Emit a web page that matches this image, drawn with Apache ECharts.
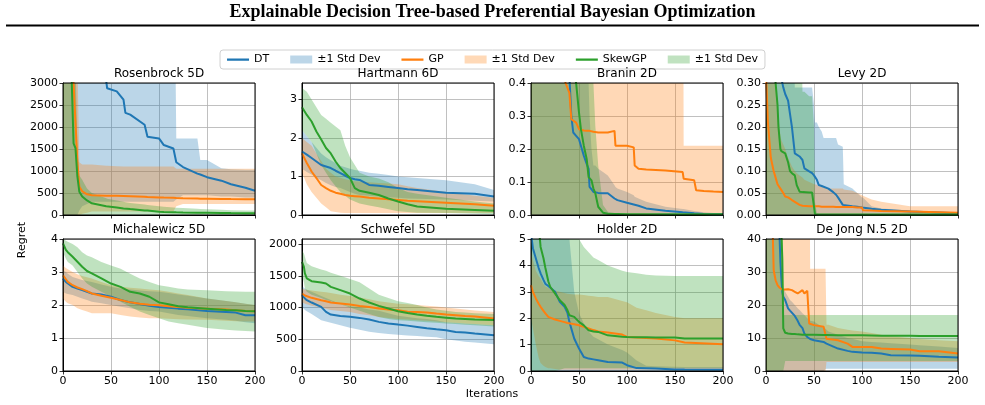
<!DOCTYPE html>
<html>
<head>
<meta charset="utf-8">
<script src="https://cdn.jsdelivr.net/npm/echarts@6/dist/echarts.min.js"></script>
<style>
  html, body { margin: 0; padding: 0; background: #fff; }
  #chart { width: 985px; height: 405px; }
</style>
</head>
<body>
<div id="chart"></div>
<script>
// Rosenbrock 5D
const rosenIters = [0, 9, 11, 13, 15, 17, 20, 25, 30, 45, 46, 56, 63, 65, 70, 85, 88, 100, 105, 115, 118, 125, 140, 143, 150, 165, 175, 190, 200];
const rosenDtMean = [5000, 4800, 4700, 4600, 4500, 4400, 4200, 4000, 3800, 3050, 2880, 2810, 2620, 2320, 2280, 2050, 1780, 1740, 1590, 1510, 1200, 1090, 940, 920, 860, 780, 700, 620, 550];
const rosenDtLo = [0, 0, 0, 0, 0, 100, 200, 250, 300, 300, 300, 300, 300, 300, 300, 300, 300, 300, 300, 300, 350, 450, 450, 450, 450, 420, 420, 400, 400];
const rosenDtHi = [8000, 8000, 8000, 8000, 8000, 8000, 8000, 8000, 8000, 8000, 8000, 8000, 8000, 8000, 8000, 8000, 8000, 8000, 8000, 8000, 1740, 1740, 1740, 1250, 1250, 1060, 1040, 1030, 1030];
const rosenGpMean = [5000, 4000, 3000, 2100, 1200, 640, 540, 470, 450, 440, 440, 435, 430, 430, 425, 415, 410, 400, 395, 390, 385, 380, 375, 372, 370, 365, 362, 360, 360];
const rosenGpLo = [0, 0, 0, 0, 0, 0, 30, 50, 80, 80, 80, 80, 80, 80, 80, 80, 80, 80, 80, 80, 200, 250, 250, 250, 250, 250, 250, 250, 250];
const rosenGpHi = [8000, 7000, 6000, 5000, 3500, 1200, 1150, 1150, 1150, 1120, 1120, 1110, 1100, 1100, 1100, 1100, 1100, 1100, 1100, 1100, 1050, 1050, 1050, 1050, 1050, 1050, 1050, 1050, 1050];
const rosenSkMean = [6000, 3100, 1630, 1520, 870, 530, 420, 330, 265, 200, 195, 170, 150, 145, 135, 105, 100, 75, 70, 62, 60, 57, 52, 51, 50, 46, 44, 42, 40];
const rosenSkLo = [0, 0, 0, 0, 0, 0, 0, 0, 0, 0, 0, 0, 0, 0, 0, 0, 0, 0, 0, 0, 0, 0, 0, 0, 0, 0, 0, 0, 0];
const rosenSkHi = [9000, 7000, 5000, 3500, 1500, 900, 800, 600, 500, 380, 370, 330, 300, 290, 270, 240, 230, 200, 190, 170, 165, 160, 140, 135, 130, 120, 110, 105, 100];

// Hartmann 6D
const hartIters = [0, 5, 10, 15, 20, 25, 30, 35, 40, 45, 50, 55, 60, 70, 80, 90, 100, 110, 120, 150, 180, 200];
const hartDtMean = [1.65, 1.57, 1.48, 1.39, 1.30, 1.26, 1.22, 1.15, 1.09, 1.02, 0.96, 0.93, 0.91, 0.78, 0.76, 0.73, 0.70, 0.67, 0.65, 0.58, 0.55, 0.48];
const hartDtLo = [1.2, 1.12, 1.05, 0.97, 0.9, 0.83, 0.77, 0.73, 0.7, 0.65, 0.6, 0.55, 0.52, 0.5, 0.48, 0.46, 0.45, 0.43, 0.42, 0.4, 0.37, 0.35];
const hartDtHi = [2.2, 2.05, 1.9, 1.75, 1.6, 1.5, 1.42, 1.35, 1.28, 1.24, 1.2, 1.17, 1.15, 1.1, 1.07, 1.04, 1.0, 0.98, 0.96, 0.9, 0.8, 0.65];
const hartGpMean = [1.6, 1.35, 1.13, 0.96, 0.78, 0.7, 0.63, 0.58, 0.55, 0.52, 0.5, 0.49, 0.48, 0.45, 0.43, 0.41, 0.39, 0.37, 0.36, 0.32, 0.28, 0.24];
const hartGpLo = [1.1, 0.8, 0.6, 0.45, 0.3, 0.2, 0.1, 0.08, 0.06, 0.05, 0.05, 0.05, 0.05, 0.05, 0.05, 0.05, 0.05, 0.05, 0.05, 0.05, 0.05, 0.05];
const hartGpHi = [2.0, 1.9, 1.8, 1.6, 1.4, 1.2, 1.1, 1.0, 0.97, 0.93, 0.9, 0.88, 0.87, 0.85, 0.83, 0.82, 0.8, 0.75, 0.7, 0.6, 0.5, 0.45];
const hartSkMean = [2.8, 2.6, 2.43, 2.17, 1.96, 1.74, 1.6, 1.39, 1.22, 1.09, 0.96, 0.7, 0.63, 0.58, 0.52, 0.43, 0.35, 0.28, 0.22, 0.16, 0.13, 0.11];
const hartSkLo = [2.2, 2.05, 1.9, 1.6, 1.3, 1.1, 0.9, 0.75, 0.6, 0.5, 0.4, 0.35, 0.3, 0.25, 0.2, 0.15, 0.1, 0.08, 0.06, 0.05, 0.03, 0.02];
const hartSkHi = [3.3, 3.2, 3.0, 2.8, 2.6, 2.5, 2.4, 2.3, 2.2, 1.8, 1.5, 1.3, 1.1, 1.0, 0.95, 0.85, 0.7, 0.6, 0.55, 0.45, 0.35, 0.3];

// Branin 2D
const branIters = [0, 30, 36, 40, 42, 44, 47, 50, 52, 55, 58, 60, 61, 63, 65, 67, 70, 75, 80, 87, 88, 90, 100, 107, 108, 112, 120, 140, 158, 159, 170, 172, 180, 190, 200];
const branDtMean = [1.0, 0.6, 0.5, 0.42, 0.30, 0.25, 0.24, 0.23, 0.21, 0.18, 0.155, 0.14, 0.085, 0.078, 0.07, 0.068, 0.067, 0.066, 0.066, 0.05, 0.048, 0.045, 0.037, 0.032, 0.031, 0.028, 0.02, 0.013, 0.008, 0.008, 0.005, 0.005, 0.003, 0.002, 0.002];
const branDtLo = [0, 0, 0, 0, 0, 0, 0, 0, 0, 0, 0, 0, 0, 0, 0, 0, 0, 0, 0, 0, 0, 0, 0, 0, 0, 0, 0, 0, 0, 0, 0, 0, 0, 0, 0];
const branDtHi = [2, 1.5, 1.2, 1.0, 0.9, 0.85, 0.8, 0.7, 0.6, 0.5, 0.45, 0.4, 0.3, 0.2, 0.15, 0.15, 0.14, 0.13, 0.12, 0.09, 0.085, 0.08, 0.07, 0.06, 0.055, 0.05, 0.04, 0.025, 0.018, 0.018, 0.012, 0.011, 0.008, 0.006, 0.005];
const branGpMean = [1.2, 0.5, 0.40, 0.37, 0.29, 0.29, 0.28, 0.26, 0.258, 0.256, 0.255, 0.255, 0.255, 0.253, 0.252, 0.251, 0.25, 0.25, 0.25, 0.255, 0.21, 0.21, 0.21, 0.205, 0.15, 0.14, 0.138, 0.135, 0.13, 0.11, 0.105, 0.075, 0.073, 0.071, 0.07];
const branGpLo = [0, 0, 0, 0, 0, 0, 0, 0, 0, 0, 0, 0, 0, 0, 0, 0, 0, 0, 0, 0, 0, 0, 0, 0, 0, 0, 0, 0, 0, 0, 0, 0, 0, 0, 0];
const branGpHi = [1.5, 1.5, 1.5, 1.5, 1.5, 1.5, 1.5, 1.5, 1.5, 1.5, 1.5, 1.5, 1.5, 1.5, 1.5, 1.5, 1.5, 1.5, 1.5, 1.5, 1.5, 1.5, 1.5, 1.5, 1.5, 1.5, 1.5, 1.5, 1.5, 0.21, 0.21, 0.21, 0.21, 0.21, 0.21];
const branSkMean = [1.5, 0.8, 0.6, 0.5, 0.47, 0.44, 0.4, 0.31, 0.26, 0.21, 0.17, 0.115, 0.11, 0.105, 0.08, 0.066, 0.025, 0.007, 0.004, 0.003, 0.003, 0.003, 0.002, 0.002, 0.002, 0.002, 0.002, 0.002, 0.002, 0.002, 0.002, 0.002, 0.002, 0.002, 0.002];
const branSkLo = [0, 0, 0, 0, 0, 0, 0, 0, 0, 0, 0, 0, 0, 0, 0, 0, 0, 0, 0, 0, 0, 0, 0, 0, 0, 0, 0, 0, 0, 0, 0, 0, 0, 0, 0];
const branSkHi = [2, 1.5, 1.2, 1.0, 0.9, 0.85, 0.8, 0.7, 0.65, 0.62, 0.6, 0.6, 0.5, 0.45, 0.4, 0.27, 0.15, 0.03, 0.01, 0.006, 0.005, 0.005, 0.004, 0.004, 0.004, 0.004, 0.003, 0.003, 0.003, 0.003, 0.003, 0.003, 0.003, 0.003, 0.003];

// Levy 2D
const levyIters = [0, 2, 5, 8, 10, 12, 13, 15, 16, 18, 20, 23, 25, 27, 30, 32, 35, 38, 40, 45, 48, 50, 51, 53, 55, 58, 60, 65, 70, 73, 75, 80, 81, 90, 95, 100, 101, 110, 120, 150, 200];
const levyDtMean = [0.6, 0.55, 0.5, 0.45, 0.42, 0.38, 0.36, 0.33, 0.31, 0.29, 0.275, 0.26, 0.23, 0.20, 0.14, 0.137, 0.133, 0.125, 0.106, 0.099, 0.095, 0.09, 0.088, 0.08, 0.068, 0.066, 0.065, 0.06, 0.052, 0.046, 0.04, 0.023, 0.022, 0.02, 0.019, 0.017, 0.017, 0.014, 0.012, 0.008, 0.004];
const levyDtLo = [0, 0, 0, 0, 0, 0, 0, 0, 0, 0, 0, 0, 0, 0, 0, 0, 0, 0, 0, 0, 0, 0, 0, 0, 0, 0, 0, 0, 0, 0, 0, 0, 0, 0, 0, 0, 0, 0, 0, 0, 0];
const levyDtHi = [0.6, 0.6, 0.6, 0.6, 0.6, 0.6, 0.6, 0.6, 0.6, 0.6, 0.6, 0.6, 0.6, 0.6, 0.29, 0.29, 0.29, 0.29, 0.29, 0.29, 0.29, 0.25, 0.21, 0.21, 0.2, 0.19, 0.175, 0.175, 0.175, 0.175, 0.16, 0.155, 0.07, 0.06, 0.05, 0.04, 0.04, 0.02, 0.015, 0.01, 0.005];
const levyGpMean = [0.32, 0.21, 0.13, 0.10, 0.085, 0.07, 0.066, 0.06, 0.056, 0.05, 0.042, 0.04, 0.038, 0.034, 0.03, 0.027, 0.023, 0.021, 0.02, 0.02, 0.02, 0.02, 0.02, 0.02, 0.02, 0.019, 0.019, 0.019, 0.019, 0.018, 0.018, 0.018, 0.018, 0.018, 0.017, 0.017, 0.011, 0.01, 0.009, 0.008, 0.005];
const levyGpLo = [0, 0, 0, 0, 0, 0, 0, 0, 0, 0, 0, 0, 0, 0, 0, 0, 0, 0, 0, 0, 0, 0, 0, 0, 0, 0, 0, 0, 0, 0, 0, 0, 0, 0, 0, 0, 0, 0, 0, 0, 0];
const levyGpHi = [0.6, 0.5, 0.4, 0.33, 0.3, 0.25, 0.22, 0.18, 0.17, 0.16, 0.15, 0.13, 0.12, 0.11, 0.1, 0.095, 0.09, 0.085, 0.08, 0.075, 0.072, 0.07, 0.07, 0.068, 0.066, 0.064, 0.062, 0.06, 0.06, 0.06, 0.06, 0.06, 0.058, 0.055, 0.05, 0.045, 0.044, 0.035, 0.03, 0.02, 0.02];
const levySkMean = [0.8, 0.6, 0.45, 0.35, 0.3, 0.25, 0.2, 0.15, 0.145, 0.142, 0.14, 0.12, 0.10, 0.095, 0.09, 0.068, 0.053, 0.052, 0.052, 0.051, 0.051, 0.019, 0.002, 0.001, 0.001, 0.001, 0.001, 0.001, 0.001, 0.001, 0.001, 0.001, 0.001, 0.001, 0.001, 0.001, 0.001, 0.001, 0.001, 0.001, 0.001];
const levySkLo = [0, 0, 0, 0, 0, 0, 0, 0, 0, 0, 0, 0, 0, 0, 0, 0, 0, 0, 0, 0, 0, 0, 0, 0, 0, 0, 0, 0, 0, 0, 0, 0, 0, 0, 0, 0, 0, 0, 0, 0, 0];
const levySkHi = [0.6, 0.6, 0.6, 0.6, 0.6, 0.6, 0.6, 0.6, 0.6, 0.6, 0.6, 0.6, 0.6, 0.6, 0.6, 0.6, 0.6, 0.28, 0.28, 0.27, 0.27, 0.2, 0.03, 0.004, 0.003, 0.003, 0.003, 0.003, 0.003, 0.003, 0.003, 0.003, 0.003, 0.003, 0.003, 0.003, 0.003, 0.003, 0.003, 0.003, 0.003];

// Michalewicz 5D
const michIters = [0, 3, 5, 10, 15, 20, 25, 30, 40, 50, 60, 70, 80, 90, 100, 110, 120, 130, 150, 170, 180, 190, 200];
const michDtMean = [2.8, 2.7, 2.65, 2.55, 2.5, 2.45, 2.4, 2.35, 2.32, 2.25, 2.15, 2.08, 2.03, 1.98, 1.94, 1.92, 1.89, 1.87, 1.82, 1.79, 1.77, 1.69, 1.69];
const michDtLo = [2.4, 2.35, 2.33, 2.3, 2.25, 2.2, 2.15, 2.1, 2.05, 2.0, 1.95, 1.9, 1.85, 1.82, 1.8, 1.75, 1.7, 1.67, 1.6, 1.55, 1.52, 1.48, 1.45];
const michDtHi = [3.05, 3.0, 2.95, 2.85, 2.8, 2.76, 2.73, 2.7, 2.62, 2.55, 2.5, 2.47, 2.44, 2.42, 2.4, 2.36, 2.32, 2.28, 2.2, 2.12, 2.08, 2.04, 2.0];
const michGpMean = [2.9, 2.78, 2.7, 2.6, 2.53, 2.48, 2.42, 2.35, 2.28, 2.22, 2.15, 2.08, 2.04, 2.01, 1.99, 1.96, 1.94, 1.92, 1.89, 1.86, 1.84, 1.82, 1.81];
const michGpLo = [2.2, 2.1, 2.05, 2.0, 1.9, 1.85, 1.8, 1.75, 1.75, 1.75, 1.7, 1.65, 1.62, 1.6, 1.6, 1.58, 1.57, 1.56, 1.55, 1.52, 1.51, 1.5, 1.5];
const michGpHi = [3.2, 3.12, 3.08, 3.0, 2.93, 2.88, 2.84, 2.8, 2.7, 2.6, 2.55, 2.52, 2.5, 2.47, 2.45, 2.4, 2.35, 2.3, 2.2, 2.12, 2.08, 2.04, 2.0];
const michSkMean = [3.87, 3.67, 3.6, 3.46, 3.31, 3.16, 3.03, 2.96, 2.81, 2.65, 2.55, 2.4, 2.35, 2.25, 2.08, 2.02, 1.96, 1.93, 1.89, 1.85, 1.84, 1.82, 1.81];
const michSkLo = [3.6, 3.4, 3.3, 3.2, 3.0, 2.8, 2.65, 2.55, 2.4, 2.25, 2.1, 1.95, 1.8, 1.7, 1.6, 1.5, 1.45, 1.4, 1.3, 1.25, 1.23, 1.21, 1.2];
const michSkHi = [4.0, 3.95, 3.92, 3.85, 3.75, 3.6, 3.5, 3.45, 3.3, 3.2, 3.1, 2.95, 2.8, 2.7, 2.6, 2.55, 2.5, 2.47, 2.45, 2.42, 2.41, 2.4, 2.4];

// Schwefel 5D
const schwIters = [0, 2, 3, 5, 10, 20, 25, 30, 40, 50, 60, 70, 80, 90, 100, 110, 120, 130, 140, 150, 160, 170, 180, 200];
const schwDtMean = [1195, 1160, 1142, 1116, 1079, 1010, 932, 890, 868, 853, 837, 810, 774, 750, 732, 715, 695, 675, 658, 642, 616, 605, 590, 563];
const schwDtLo = [1000, 980, 960, 940, 900, 800, 780, 760, 720, 680, 650, 620, 600, 585, 570, 560, 550, 540, 530, 500, 480, 460, 450, 420];
const schwDtHi = [1330, 1310, 1300, 1280, 1250, 1180, 1150, 1120, 1050, 1020, 1000, 970, 950, 910, 870, 850, 830, 820, 800, 770, 760, 750, 740, 720];
const schwGpMean = [1221, 1200, 1190, 1184, 1153, 1116, 1100, 1079, 1063, 1047, 1026, 1010, 984, 970, 958, 932, 928, 921, 905, 890, 880, 868, 860, 826];
const schwGpLo = [1080, 1070, 1060, 1050, 1030, 1000, 980, 960, 945, 930, 900, 880, 850, 835, 820, 810, 800, 790, 780, 770, 760, 750, 740, 720];
const schwGpHi = [1300, 1290, 1285, 1280, 1270, 1250, 1240, 1230, 1200, 1180, 1160, 1130, 1100, 1080, 1060, 1050, 1040, 1030, 1015, 1000, 985, 970, 955, 930];
const schwSkMean = [1721, 1642, 1537, 1458, 1416, 1395, 1379, 1326, 1274, 1221, 1142, 1079, 1026, 984, 942, 915, 890, 870, 853, 840, 826, 818, 810, 805];
const schwSkLo = [1500, 1400, 1300, 1250, 1200, 1150, 1120, 1100, 1050, 1000, 950, 900, 850, 820, 800, 790, 780, 770, 760, 750, 740, 730, 720, 700];
const schwSkHi = [1900, 1850, 1800, 1700, 1650, 1600, 1580, 1550, 1500, 1450, 1400, 1300, 1200, 1150, 1100, 1070, 1040, 1000, 970, 950, 930, 920, 910, 900];

// Holder 2D
const holdIters = [0, 2, 5, 8, 10, 13, 15, 18, 20, 25, 30, 35, 38, 40, 45, 50, 55, 60, 65, 70, 80, 95, 100, 110, 120, 130, 150, 160, 200];
const holdDtMean = [5.2, 4.65, 4.27, 3.9, 3.7, 3.45, 3.3, 3.22, 3.19, 3.0, 2.62, 2.43, 2.2, 1.86, 1.23, 0.85, 0.53, 0.47, 0.44, 0.41, 0.34, 0.32, 0.22, 0.11, 0.1, 0.09, 0.06, 0.055, 0.05];
const holdDtLo = [0, 0, 0, 0, 0, 0, 0, 0, 0, 0, 0, 0, 0, 0, 0, 0, 0, 0, 0, 0, 0, 0, 0, 0, 0, 0, 0, 0, 0];
const holdDtHi = [7, 7, 7, 7, 7, 7, 7, 7, 7, 7, 6.5, 6, 5.5, 5, 3.0, 2.2, 1.8, 1.5, 1.3, 1.2, 1.0, 0.8, 0.7, 0.4, 0.2, 0.18, 0.16, 0.15, 0.15];
const holdGpMean = [3.25, 3.0, 2.75, 2.55, 2.43, 2.28, 2.18, 2.05, 1.99, 1.95, 1.9, 1.85, 1.82, 1.8, 1.77, 1.73, 1.67, 1.61, 1.55, 1.5, 1.46, 1.38, 1.29, 1.27, 1.25, 1.23, 1.16, 1.08, 1.01];
const holdGpLo = [2.0, 1.6, 1.0, 0.5, 0.3, 0.2, 0.15, 0.1, 0.1, 0.08, 0.05, 0.05, 0.05, 0.05, 0.05, 0.05, 0.05, 0.05, 0.05, 0.05, 0.05, 0.05, 0.05, 0.05, 0.05, 0.05, 0.05, 0.05, 0.05];
const holdGpHi = [4.5, 4.2, 3.8, 3.6, 3.5, 3.3, 3.2, 3.15, 3.1, 3.05, 3.0, 2.95, 2.93, 2.92, 2.9, 2.9, 2.88, 2.85, 2.83, 2.8, 2.8, 2.65, 2.6, 2.4, 2.3, 2.2, 2.05, 2.0, 2.0];
const holdSkMean = [7, 6.5, 6, 5.5, 4.7, 4.27, 3.9, 3.4, 3.19, 2.94, 2.68, 2.5, 2.3, 2.11, 2.05, 1.86, 1.73, 1.54, 1.5, 1.48, 1.35, 1.3, 1.29, 1.28, 1.28, 1.27, 1.27, 1.23, 1.23];
const holdSkLo = [0, 0, 0, 0, 0, 0, 0, 0, 0, 0, 0.05, 0.1, 0.1, 0.1, 0.1, 0.1, 0.1, 0.1, 0.1, 0.1, 0.1, 0.1, 0.1, 0.1, 0.1, 0.1, 0.1, 0.1, 0.1];
const holdSkHi = [8, 8, 8, 8, 8, 8, 8, 8, 8, 8, 8, 8, 8, 8, 8, 5.0, 4.7, 4.5, 4.3, 4.2, 4.0, 3.8, 3.75, 3.7, 3.65, 3.62, 3.6, 3.6, 3.6];

// De Jong N.5 2D
const dejIters = [0, 7, 8, 10, 12, 14, 15, 16, 17, 18, 20, 21, 23, 25, 27, 30, 33, 35, 38, 40, 43, 45, 46, 50, 60, 62, 63, 65, 75, 85, 90, 100, 110, 120, 130, 150, 160, 180, 200];
const dejDtMean = [60, 55, 52, 48, 45, 42, 33, 28, 24, 22.5, 21.5, 21, 19, 18.3, 17.7, 16.7, 15.2, 14, 13, 11.3, 10.3, 9.8, 9.7, 9.3, 8.8, 8.6, 8.3, 7.8, 6.8, 6.1, 5.8, 5.6, 5.5, 5.3, 4.8, 4.7, 4.6, 4.3, 4.1];
const dejDtLo = [0, 0, 0, 0, 0, 0, 0, 0, 0, 0, 0, 0, 0, 0, 0, 0, 0, 0, 0, 0, 0, 0, 0, 0, 0, 0.5, 0.7, 0.7, 0.7, 0.7, 0.7, 0.7, 0.7, 0.7, 0.7, 0.7, 0.7, 0.7, 0.7];
const dejDtHi = [80, 80, 80, 80, 80, 80, 60, 40, 30, 25, 24, 23.5, 22.5, 21.5, 21, 20, 19, 18.5, 17.5, 17, 16, 15.5, 15.2, 15, 13, 12.8, 12.5, 12, 11, 10, 9.8, 9, 8.8, 8.6, 8.4, 8, 7.8, 7.4, 7];
const dejGpMean = [70, 42, 30.6, 27.5, 26, 25.3, 25, 24.8, 24.6, 24.5, 24.7, 24.7, 24.8, 25, 24.5, 24, 23.5, 23, 24.5, 23.5, 24.3, 14.4, 14.2, 13.9, 13.4, 13, 9.8, 9.6, 9.3, 8.3, 7.3, 7.3, 7.3, 6.8, 6.7, 6.5, 6.0, 6.0, 5.3];
const dejGpLo = [0, 0, 0, 0, 0, 0, 0, 0, 0, 0, 0, 0, 0, 0, 0, 0, 0, 0, 0, 0, 0, 0, 0, 0, 0, 0, 2.7, 2.7, 2.7, 2.7, 2.7, 2.7, 2.7, 2.7, 2.7, 2.7, 2.7, 2.7, 2.7];
const dejGpHi = [80, 80, 80, 80, 80, 80, 80, 80, 80, 80, 80, 80, 80, 80, 80, 80, 80, 80, 80, 80, 80, 80, 31, 31, 31, 31, 14, 14, 13, 12.5, 12.3, 12, 11.5, 11, 10.5, 10, 9.7, 9.3, 9];
const dejSkMean = [80, 70, 68, 66, 64, 60, 50, 42, 34, 12.9, 11.6, 11.4, 11.35, 11.3, 11.2, 11.2, 11.1, 11.1, 11.0, 11.0, 11.0, 11.0, 11.0, 11.0, 10.9, 10.9, 10.9, 10.9, 10.85, 10.8, 10.8, 10.8, 10.75, 10.7, 10.7, 10.65, 10.6, 10.6, 10.6];
const dejSkLo = [0, 0, 0, 0, 0, 0, 0, 0, 0, 0, 3, 3, 3, 3, 3, 3, 3, 3, 3, 3, 3, 3, 3, 3, 3, 3, 3, 3, 3, 3, 3, 3, 3, 3, 3, 3, 3, 3, 3];
const dejSkHi = [80, 80, 80, 80, 80, 80, 80, 80, 80, 17, 17, 17, 17, 17, 17, 17, 17, 17, 17, 17, 17, 17, 17, 17, 17, 17, 17, 17, 17, 17, 17, 17, 17, 17, 17, 17, 17, 17, 17];

// x axis ticks shared by all panels
const iterTicks = [0, 50, 100, 150, 200];

const panels = [
  { title: 'Rosenbrock 5D', max: 3000, step: 500, digits: 0, iters: rosenIters,
    dt: [rosenDtMean, rosenDtLo, rosenDtHi], gp: [rosenGpMean, rosenGpLo, rosenGpHi], sk: [rosenSkMean, rosenSkLo, rosenSkHi] },
  { title: 'Hartmann 6D', max: 3.43, step: 1, digits: 0, hideTop: true, iters: hartIters,
    dt: [hartDtMean, hartDtLo, hartDtHi], gp: [hartGpMean, hartGpLo, hartGpHi], sk: [hartSkMean, hartSkLo, hartSkHi] },
  { title: 'Branin 2D', max: 0.4, step: 0.1, digits: 1, iters: branIters,
    dt: [branDtMean, branDtLo, branDtHi], gp: [branGpMean, branGpLo, branGpHi], sk: [branSkMean, branSkLo, branSkHi] },
  { title: 'Levy 2D', max: 0.3, step: 0.05, digits: 2, iters: levyIters,
    dt: [levyDtMean, levyDtLo, levyDtHi], gp: [levyGpMean, levyGpLo, levyGpHi], sk: [levySkMean, levySkLo, levySkHi] },
  { title: 'Michalewicz 5D', max: 4, step: 1, digits: 0, iters: michIters,
    dt: [michDtMean, michDtLo, michDtHi], gp: [michGpMean, michGpLo, michGpHi], sk: [michSkMean, michSkLo, michSkHi] },
  { title: 'Schwefel 5D', max: 2080, step: 500, digits: 0, hideTop: true, iters: schwIters,
    dt: [schwDtMean, schwDtLo, schwDtHi], gp: [schwGpMean, schwGpLo, schwGpHi], sk: [schwSkMean, schwSkLo, schwSkHi] },
  { title: 'Holder 2D', max: 5, step: 1, digits: 0, iters: holdIters,
    dt: [holdDtMean, holdDtLo, holdDtHi], gp: [holdGpMean, holdGpLo, holdGpHi], sk: [holdSkMean, holdSkLo, holdSkHi] },
  { title: 'De Jong N.5 2D', max: 40, step: 10, digits: 0, iters: dejIters,
    dt: [dejDtMean, dejDtLo, dejDtHi], gp: [dejGpMean, dejGpLo, dejGpHi], sk: [dejSkMean, dejSkLo, dejSkHi] }
];

const methods = [
  { key: 'dt', name: 'DT', color: '#1f77b4', band: '#bcd6e8' },
  { key: 'gp', name: 'GP', color: '#ff7f0e', band: '#ffd9b7' },
  { key: 'sk', name: 'SkewGP', color: '#2ca02c', band: '#c0e2c0' }
];

const FONT = 'DejaVu Sans';
const colLefts = [63, 302, 531, 766];
const rowTops = [83, 239];
const panelW = 192;
const panelH = 132;
// thin bar centred in the 22x8 legend icon box (hairlines at top/bottom fix the bounds)
const LINE_ICON = 'path://M0,0h22v0.01h-22zM0,3h22v2.2h-22zM0,7.99h22v0.01h-22z';

const grids = [], xAxes = [], yAxes = [], titles = [], series = [], frames = [];

titles.push({
  text: 'Explainable Decision Tree-based Preferential Bayesian Optimization',
  left: 'center', top: 3, padding: 0,
  textStyle: { fontFamily: 'Liberation Serif', fontWeight: 'bold', fontSize: 18, color: '#000' }
});

panels.forEach((p, i) => {
  const row = Math.floor(i / 4);
  const left = colLefts[i % 4];
  const top = rowTops[row];
  grids.push({ left, top, width: panelW, height: panelH });

  titles.push({
    text: p.title, left: left + panelW / 2, top: top - 15, textAlign: 'center', padding: 0,
    textStyle: { fontFamily: FONT, fontWeight: 'normal', fontSize: 12, color: '#000' }
  });

  xAxes.push({
    gridIndex: i, type: 'value', min: 0, max: 200, interval: iterTicks[1] - iterTicks[0],
    axisLine: { show: true, onZero: false, lineStyle: { color: '#000', width: 1 } },
    axisTick: { show: true, length: 3.5, lineStyle: { color: '#000', width: 0.8 } },
    axisLabel: { show: row === 1, color: '#000', fontSize: 11, fontFamily: FONT, margin: 5 },
    splitLine: { show: true, lineStyle: { color: '#b0b0b0', width: 0.8 } }
  });

  yAxes.push({
    gridIndex: i, type: 'value', min: 0, max: p.max, interval: p.step,
    axisLine: { show: true, onZero: false, lineStyle: { color: '#000', width: 1 } },
    axisTick: { show: true, length: 3.5, lineStyle: { color: '#000', width: 0.8 } },
    axisLabel: {
      color: '#000', fontSize: 11, fontFamily: FONT, margin: 5,
      showMaxLabel: !p.hideTop,
      formatter: v => v.toFixed(p.digits)
    },
    splitLine: { show: true, lineStyle: { color: '#b0b0b0', width: 0.8 } }
  });

  // std bands
  methods.forEach(m => {
    const [, lo, hi] = p[m.key];
    const iters = p.iters;
    series.push({
      type: 'custom', name: m.name + ' band', xAxisIndex: i, yAxisIndex: i,
      silent: true, clip: true, z: 2,
      itemStyle: { color: m.band },
      encode: { x: 0, y: [1, 2] },
      data: iters.map((x, k) => [x, lo[k], hi[k]]),
      renderItem: (params, api) => {
        if (params.dataIndex !== 0) return null;
        const pts = [];
        for (let k = 0; k < iters.length; k++) pts.push(api.coord([iters[k], hi[k]]));
        for (let k = iters.length - 1; k >= 0; k--) pts.push(api.coord([iters[k], lo[k]]));
        return { type: 'polygon', shape: { points: pts }, style: { fill: m.color, opacity: 0.3 } };
      }
    });
  });

  // mean curves
  methods.forEach(m => {
    const mean = p[m.key][0];
    series.push({
      type: 'line', name: m.name, xAxisIndex: i, yAxisIndex: i,
      silent: true, symbol: 'none', z: 3,
      lineStyle: { color: m.color, width: 2 },
      itemStyle: { color: m.color },
      data: p.iters.map((x, k) => [x, mean[k]])
    });
  });

  frames.push({
    type: 'rect', silent: true, z: 50,
    shape: { x: left, y: top, width: panelW, height: panelH },
    style: { fill: 'none', stroke: '#000', lineWidth: 1 }
  });
});

const option = {
  animation: false,
  backgroundColor: '#fff',
  title: titles,
  legend: {
    top: 50, left: 'center',
    itemWidth: 22, itemHeight: 8, itemGap: 21,
    padding: [4, 7], borderColor: '#d0d0d0', borderWidth: 1, borderRadius: 3,
    textStyle: { fontFamily: FONT, fontSize: 11, color: '#000' },
    formatter: n => (n.endsWith(' band') ? '\u00b11 Std Dev' : n),
    data: [
      { name: 'DT', icon: LINE_ICON, itemStyle: { color: '#1f77b4' } },
      { name: 'DT band', icon: 'rect', itemStyle: { color: '#bcd6e8' } },
      { name: 'GP', icon: LINE_ICON, itemStyle: { color: '#ff7f0e' } },
      { name: 'GP band', icon: 'rect', itemStyle: { color: '#ffd9b7' } },
      { name: 'SkewGP', icon: LINE_ICON, itemStyle: { color: '#2ca02c' } },
      { name: 'SkewGP band', icon: 'rect', itemStyle: { color: '#c0e2c0' } }
    ]
  },
  grid: grids,
  xAxis: xAxes,
  yAxis: yAxes,
  series,
  graphic: [
    { type: 'line', silent: true, shape: { x1: 6, y1: 25.5, x2: 979, y2: 25.5 }, style: { stroke: '#000', lineWidth: 2 } },
    { type: 'text', silent: true, x: 22, y: 240, rotation: Math.PI / 2,
      style: { text: 'Regret', font: '11px "DejaVu Sans"', fill: '#000', textAlign: 'center', textVerticalAlign: 'middle' } },
    { type: 'text', silent: true, x: 492, y: 394,
      style: { text: 'Iterations', font: '11px "DejaVu Sans"', fill: '#000', textAlign: 'center', textVerticalAlign: 'middle' } },
    ...frames
  ]
};

const chart = echarts.init(document.getElementById('chart'));
chart.setOption(option);
</script>
</body>
</html>
